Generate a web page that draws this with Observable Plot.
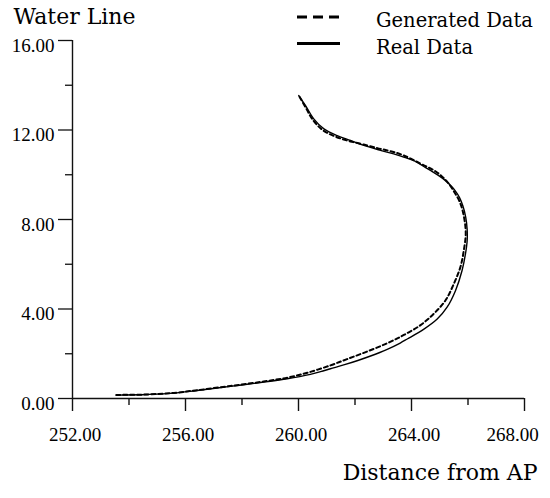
<!DOCTYPE html>
<html><head><meta charset="utf-8">
<script src="https://cdn.jsdelivr.net/npm/d3@7"></script>
<script src="https://cdn.jsdelivr.net/npm/@observablehq/plot@0.6"></script>
<style>
body{margin:0;background:#fff;}
#wrap{position:relative;width:550px;height:498px;overflow:hidden;}
#legend{position:absolute;left:0;top:0;}
</style></head>
<body><div id="wrap"><div id="chart"></div><div id="legend"></div></div>
<script>
// Real Data (solid)
const realX = [253.55, 254.64, 255.59, 256.41, 257.59, 258.77, 259.60, 260.42, 260.78, 261.13, 261.60, 262.10, 262.55, 263.14, 263.60, 263.85, 264.44, 264.91, 265.26, 265.56, 265.79, 265.91, 265.97, 265.97, 265.92, 265.82, 265.70, 265.55, 265.38, 265.18, 264.95, 264.70, 264.42, 264.10, 263.75, 263.37, 262.90, 262.31, 261.84, 261.37, 260.90, 260.54, 260.25, 260.01];
const realY = [0.15, 0.18, 0.24, 0.36, 0.54, 0.73, 0.88, 1.08, 1.20, 1.33, 1.50, 1.70, 1.90, 2.20, 2.48, 2.66, 3.10, 3.55, 4.08, 4.83, 5.72, 6.46, 7.05, 7.55, 8.10, 8.60, 8.98, 9.28, 9.53, 9.76, 9.97, 10.17, 10.38, 10.62, 10.78, 10.93, 11.09, 11.31, 11.53, 11.75, 12.05, 12.50, 13.09, 13.54];
// Generated Data (dashed)
const genX = [253.55, 254.64, 255.59, 256.41, 257.59, 258.77, 259.60, 260.31, 261.13, 261.72, 262.43, 263.14, 263.73, 264.32, 264.79, 265.20, 265.50, 265.73, 265.85, 265.92, 265.86, 265.72, 265.48, 265.28, 265.05, 264.79, 264.44, 264.08, 263.73, 263.49, 263.14, 262.79, 262.31, 261.84, 261.49, 261.10, 260.80, 260.48, 260.30, 260.04];
const genY = [0.16, 0.18, 0.25, 0.37, 0.56, 0.76, 0.93, 1.15, 1.48, 1.76, 2.10, 2.47, 2.84, 3.28, 3.79, 4.38, 5.13, 5.87, 6.61, 7.36, 8.10, 8.75, 9.30, 9.66, 9.96, 10.20, 10.42, 10.65, 10.86, 10.97, 11.09, 11.19, 11.35, 11.49, 11.62, 11.82, 12.05, 12.50, 12.90, 13.48];
const xMajor = [252, 256, 260, 264, 268];
const xMinor = [254, 258, 262, 266];
const yMajor = [0, 4, 8, 12, 16];
const yMinor = [2, 6, 10, 14];
const seriesNames = ["Generated Data", "Real Data"];
const xTitle = "Distance from AP";
const yTitle = "Water Line";

const real = realX.map((x, i) => ({x, y: realY[i]}));
const gen = genX.map((x, i) => ({x, y: genY[i]}));
const fmt = d => d.toFixed(2);
const none = () => "";
const serif = "'Liberation Serif', 'Times New Roman', Times, serif";
const tickFont = {fontFamily: serif, fontSize: 19};
const xInner = xMajor.slice(0, -1);
const xLast = xMajor.slice(-1);

const chart = Plot.plot({
  width: 550, height: 498,
  marginLeft: 72, marginRight: 26, marginTop: 40, marginBottom: 100,
  x: {domain: [252, 268]},
  y: {domain: [0, 16]},
  style: {fontFamily: serif, fontSize: "19px", color: "#000", background: "#fff"},
  marks: [
    Plot.ruleX([252], {y1: 0, y2: 16, strokeWidth: 1.4, stroke: "#111"}),
    Plot.ruleY([0], {x1: 252, x2: 268, strokeWidth: 1.4, stroke: "#111"}),
    Plot.axisX(xMajor, {tickSize: 13, tickFormat: none, label: null, strokeWidth: 1.4, stroke: "#111"}),
    Plot.axisX(xInner, {tickSize: 0, tickPadding: 29, dx: 2.5, tickFormat: fmt, label: null, ...tickFont}),
    Plot.axisX(xLast, {tickSize: 0, tickPadding: 29, dx: -12, tickFormat: fmt, label: null, ...tickFont}),
    Plot.axisX(xMinor, {tickSize: 7, tickFormat: none, label: null, strokeWidth: 1.4, stroke: "#111"}),
    Plot.axisY(yMajor, {tickSize: 14, tickFormat: none, label: null, strokeWidth: 1.3, stroke: "#111"}),
    Plot.axisY(yMajor, {tickSize: 0, tickPadding: 18, dy: 5, tickFormat: fmt, label: null, ...tickFont}),
    Plot.axisY(yMinor, {tickSize: 7, tickFormat: none, label: null, strokeWidth: 1.3, stroke: "#111"}),
    Plot.line(real, {x: "x", y: "y", curve: "catmull-rom", strokeWidth: 1.4, stroke: "#000"}),
    Plot.line(gen, {x: "x", y: "y", curve: "catmull-rom", strokeWidth: 2, strokeDasharray: "4,3", stroke: "#000"}),
    Plot.text([yTitle], {frameAnchor: "top-left", dx: -59, dy: -17, textAnchor: "start", lineAnchor: "bottom", fontFamily: "DejaVu Serif", fontSize: 22}),
    Plot.text([xTitle], {frameAnchor: "bottom-right", dx: 13, dy: 81, textAnchor: "end", lineAnchor: "bottom", fontFamily: "DejaVu Serif", fontSize: 22})
  ]
});
document.getElementById("chart").appendChild(chart);

// Legend
const lg = d3.select("#legend").append("svg").attr("width", 550).attr("height", 60);
const items = [
  {name: seriesNames[0], dash: "10,6", ly: 17, ty: 27},
  {name: seriesNames[1], dash: null, ly: 43.5, ty: 53.5}
];
items.forEach(it => {
  lg.append("line").attr("x1", 297).attr("x2", it.dash ? 339 : 340).attr("y1", it.ly).attr("y2", it.ly)
    .attr("stroke", "#000").attr("stroke-width", 3).attr("stroke-dasharray", it.dash);
  lg.append("text").attr("x", 376).attr("y", it.ty).attr("font-family", "DejaVu Serif").attr("font-size", 19.5)
    .attr("fill", "#000").text(it.name);
});
</script>
</body></html>
